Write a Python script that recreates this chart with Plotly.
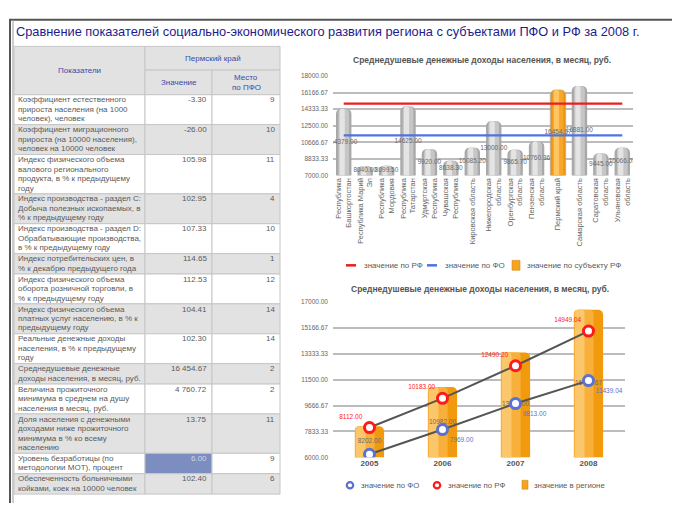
import plotly.graph_objects as go

W, H = 675, 506


def px(x):
    return x / W


def py(y):
    return 1 - y / H


# ---------------- data ----------------
page_title = "Сравнение показателей социально-экономического развития региона с субъектами ПФО и РФ за 2008 г."
head_indicator = "Показатели"
head_region = "Пермский край"
head_value = "Значение"
head_rank = ["Место", "по ПФО"]

indicators = [
    "Коэффициент естественного\nприроста населения (на 1000\nчеловек), человек",
    "Коэффициент миграционного\nприроста (на 10000 населения),\nчеловек на 10000 человек",
    "Индекс физического объема\nвалового регионального\nпродукта, в % к предыдущему\nгоду",
    "Индекс производства - раздел C:\nДобыча полезных ископаемых, в\n% к предыдущему году",
    "Индекс производства - раздел D:\nОбрабатывающие производства,\nв % к предыдущему году",
    "Индекс потребительских цен, в\n% к декабрю предыдущего года",
    "Индекс физического объема\nоборота розничной торговли, в\n% к предыдущему году",
    "Индекс физического объема\nплатных услуг населению, в % к\nпредыдущему году",
    "Реальные денежные доходы\nнаселения, в % к предыдущему\nгоду",
    "Среднедушевые денежные\nдоходы населения, в месяц, руб.",
    "Величина прожиточного\nминимума в среднем на душу\nнаселения в месяц, руб.",
    "Доля населения с денежными\nдоходами ниже прожиточного\nминимума в % ко всему\nнаселению",
    "Уровень безработицы (по\nметодологии МОТ), процент",
    "Обеспеченность больничными\nкойками, коек на 10000 человек",
]
indicator_values = ["-3.30", "-26.00", "105.98", "102.95", "107.33", "114.65", "112.53",
                    "104.41", "102.30", "16 454.67", "4 760.72", "13.75", "6.00", "102.40"]
indicator_ranks = ["9", "10", "11", "4", "10", "1", "12", "14", "14", "2", "2", "11", "9", "6"]
highlight_row = 12

chart_title = "Среднедушевые денежные доходы населения, в месяц, руб."

regions = [
    "Республика<br>Башкортостан", "Республика Марий<br>Эл", "Республика<br>Мордовия",
    "Республика<br>Татарстан", "Удмуртская<br>Республика", "Чувашская<br>Республика",
    "Кировская область", "Нижегородская<br>область", "Оренбургская<br>область",
    "Пензенская<br>область", "Пермский край", "Самарская область",
    "Саратовская<br>область", "Ульяновская<br>область",
]
region_incomes_2008 = [14379.00, 8040.00, 8099.50, 14625.00, 9920.00, 8638.30, 10085.20,
                       13000.00, 9865.70, 10760.36, 16454.67, 16881.00, 9445.00, 10066.05]
focus_region = "Пермский край"

years = ["2005", "2006", "2007", "2008"]
income_region = [8202.00, 10982.00, 13437.00, 16454.67]
income_fo = [6220.00, 7969.00, 9813.00, 11439.04]
income_rf = [8112.00, 10183.00, 12490.20, 14949.04]

top_ticks = [7000.00, 8833.33, 10666.67, 12500.00, 14333.33, 16166.67, 18000.00]
bottom_ticks = [6000.00, 7833.33, 9666.67, 11500.00, 13333.33, 15166.67, 17000.00]

legend_top = ["значение по РФ", "значение по ФО", "значение по субъекту РФ"]
legend_bottom = ["значение по ФО", "значение по РФ", "значение в регионе"]

# ---------------- styles ----------------
FONT = "Liberation Sans, Arial, sans-serif"
GRID = "#c6c6c6"
ALT = "#e2e2e2"
TXT = "#5a5a5a"
HEAD_TXT = "#3b49a6"
RED = "#ee1c1c"
BLUE = "#4f73e0"
MRED = "#ff1a1a"
MBLUE = "#5a72d0"
ORANGE = "#f5a323"
AXTXT = "#666666"

shapes = []
annotations = []


def rect(x0, y0, x1, y1, fill, line=GRID, w=1):
    shapes.append(dict(type="rect", xref="paper", yref="paper",
                       x0=px(x0), x1=px(x1), y0=py(y1), y1=py(y0),
                       fillcolor=fill, line=dict(color=line, width=w), layer="above"))


def hline(x0, x1, y, color, w):
    shapes.append(dict(type="line", xref="paper", yref="paper", x0=px(x0), x1=px(x1),
                       y0=py(y), y1=py(y), line=dict(color=color, width=w), layer="above"))


def vline(x, y0, y1, color, w):
    shapes.append(dict(type="line", xref="paper", yref="paper", x0=px(x), x1=px(x),
                       y0=py(y0), y1=py(y1), line=dict(color=color, width=w), layer="above"))


def ring(cx, cy, r, color, w):
    shapes.append(dict(type="circle", xref="paper", yref="paper", x0=px(cx - r), x1=px(cx + r),
                       y0=py(cy + r), y1=py(cy - r), fillcolor="white",
                       line=dict(color=color, width=w), layer="above"))


def text(x, y, s, anchor="left", size=8, color=TXT, bold=False):
    annotations.append(dict(xref="paper", yref="paper", x=px(x), y=py(y), text=s,
                            showarrow=False, xanchor=anchor, yanchor="middle",
                            font=dict(family=FONT, size=size, color=color,
                                      weight="bold" if bold else "normal")))


# frame
hline(9, 672, 16, "#555555", 2)
vline(10, 16, 506, "#555555", 2)
vline(13, 16, 506, "#9a9a9a", 1)

text(14, 28, page_title, size=12.8, color="#1c1c8e")

# ---------------- table ----------------
CX = [14, 145, 212, 280]
HT, HM, HB = 43, 67, 92
LH, PAD = 9.6, 1.5

rect(CX[0], HT, CX[1], HB, ALT)
rect(CX[1], HT, CX[3], HM, ALT)
rect(CX[1], HM, CX[2], HB, ALT)
rect(CX[2], HM, CX[3], HB, ALT)
text((CX[0] + CX[1]) / 2, (HT + HB) / 2, head_indicator, anchor="center", color=HEAD_TXT)
text((CX[1] + CX[3]) / 2, (HT + HM) / 2, head_region, anchor="center", color=HEAD_TXT)
text((CX[1] + CX[2]) / 2, (HM + HB) / 2, head_value, anchor="center", color=HEAD_TXT)
text((CX[2] + CX[3]) / 2, (HM + HB) / 2 - LH / 2, head_rank[0], anchor="center", color=HEAD_TXT)
text((CX[2] + CX[3]) / 2, (HM + HB) / 2 + LH / 2, head_rank[1], anchor="center", color=HEAD_TXT)

top = HB
for i, label in enumerate(indicators):
    lines = label.split("\n")
    h = len(lines) * LH + PAD
    fill = "#ffffff" if i % 2 == 0 else ALT
    hl = i == highlight_row
    rect(CX[0], top, CX[1], top + h, fill)
    rect(CX[1], top, CX[2], top + h, "#7c8dbf" if hl else fill)
    rect(CX[2], top, CX[3], top + h, fill)
    for j, ln in enumerate(lines):
        text(CX[0] + 2, top + 5.2 + j * LH, ln)
    text(CX[2] - 3, top + 5.2, indicator_values[i], anchor="right",
         color="#d4d8e6" if hl else TXT)
    text(CX[3] - 3, top + 5.2, indicator_ranks[i], anchor="right")
    top += h

# ---------------- top chart ----------------
fig = go.Figure()

Y0_TOP = top_ticks[0]
others = [r for r in regions if r != focus_region]
others_v = [v for r, v in zip(regions, region_incomes_2008) if r != focus_region]
focus_v = [v for r, v in zip(regions, region_incomes_2008) if r == focus_region]

bar_layers = [
    (0.72, None, "#a9a9a9", "#ec9410", 5),
    (0.50, None, "#c6c6c6", "#f7a82c", 4),
    (0.24, -0.19, "#e4e4e4", "#ffc563", 3),
]
for k, (wd, off, gcol, ocol, cr) in enumerate(bar_layers):
    fig.add_trace(go.Bar(x=others, y=others_v, width=wd, offset=off,
                         marker=dict(color=gcol, line=dict(width=0), cornerradius=cr),
                         xaxis="x", yaxis="y", showlegend=False, hoverinfo="skip"))
    fig.add_trace(go.Bar(x=[focus_region], y=focus_v, width=wd, offset=off,
                         marker=dict(color=ocol, line=dict(width=0.8 if k == 0 else 0, color="#b0b0b0"),
                                     cornerradius=cr),
                         xaxis="x", yaxis="y", showlegend=False, hoverinfo="skip"))

fig.add_trace(go.Scatter(x=regions, y=[(Y0_TOP + v) / 2 for v in region_incomes_2008],
                         text=[f"{v:.2f}" for v in region_incomes_2008], mode="text",
                         textfont=dict(family=FONT, size=6.5, color="#6a6a6a"),
                         xaxis="x", yaxis="y", showlegend=False, hoverinfo="skip"))

fig.add_trace(go.Scatter(x=regions, y=[income_rf[-1]] * len(regions), mode="lines",
                         line=dict(color=RED, width=2.2), name=legend_top[0],
                         xaxis="x", yaxis="y", showlegend=False))
fig.add_trace(go.Scatter(x=regions, y=[income_fo[-1]] * len(regions), mode="lines",
                         line=dict(color=BLUE, width=2.2), name=legend_top[1],
                         xaxis="x", yaxis="y", showlegend=False))

# top legend (drawn by hand for compact spacing)
LY1 = 265
hline(346, 356, LY1, RED, 2.5)
text(362, LY1, legend_top[0], color="#5a5a5a")
hline(427, 437, LY1, BLUE, 2.5)
text(443, LY1, legend_top[1], color="#5a5a5a")
rect(512, LY1 - 5, 520, LY1 + 5, ORANGE, line="#d88a10", w=0.6)
text(525, LY1, legend_top[2], color="#5a5a5a")

# ---------------- bottom chart ----------------
Y0_BOT = bottom_ticks[0]
bot_layers = [
    (0.40, None, "#f29a0e", 5),
    (0.27, -0.2, "#f8b03a", 4),
    (0.13, -0.185, "#fcc66a", 3),
]
for k, (wd, off, col, cr) in enumerate(bot_layers):
    fig.add_trace(go.Bar(x=years, y=income_region, width=wd, offset=off,
                         marker=dict(color=col, line=dict(width=0), cornerradius=cr),
                         xaxis="x2", yaxis="y3", name=legend_bottom[2], showlegend=False,
                         hoverinfo="skip"))

fig.add_trace(go.Scatter(x=years, y=[(Y0_BOT + v) / 2 for v in income_region],
                         text=[f"{v:.2f}" for v in income_region], mode="text",
                         textfont=dict(family=FONT, size=6.5, color="#6a6a6a"),
                         xaxis="x2", yaxis="y3", showlegend=False, hoverinfo="skip"))

for series, col, pos, name in [(income_fo, MBLUE, "bottom right", legend_bottom[0]),
                               (income_rf, MRED, "top left", legend_bottom[1])]:
    fig.add_trace(go.Scatter(x=years, y=series, mode="lines", line=dict(color="#555555", width=2),
                             xaxis="x2", yaxis="y3", showlegend=False, hoverinfo="skip"))
    fig.add_trace(go.Scatter(x=years, y=series, mode="markers+text",
                             marker=dict(symbol="circle", size=10, color="white", line=dict(color=col, width=3)),
                             text=[f"{v:.2f}" for v in series], textposition=pos,
                             textfont=dict(family=FONT, size=6.5, color=col),
                             xaxis="x2", yaxis="y3", name=name, showlegend=False))

# bottom legend (drawn by hand)
LY2 = 488
ring(350, LY2, 3.2, MBLUE, 2.2)
text(359, LY2, legend_bottom[0], size=7.8, color="#5a5a5a")
ring(437, LY2, 3.2, MRED, 2.2)
text(446, LY2, legend_bottom[1], size=7.8, color="#5a5a5a")
rect(522, LY2 - 5, 528, LY2 + 4, ORANGE, line="#d88a10", w=0.6)
text(532, LY2, legend_bottom[2], size=7.8, color="#5a5a5a")

# ---------------- layout ----------------
ytick_txt_top = [f"{t:.2f}" for t in top_ticks]
ytick_txt_bot = [f"{t:.2f}" for t in bottom_ticks]

yax_common = dict(tickfont=dict(family=FONT, size=6.5, color=AXTXT), zeroline=False, ticks="",
                  ticklabelstandoff=4, showline=False)

text(482, 57, chart_title, anchor="center", size=8.5, color="#555555", bold=True)
text(480, 289, chart_title, anchor="center", size=8.5, color="#555555", bold=True)

fig.update_layout(
    width=W, height=H, margin=dict(l=0, r=0, t=0, b=0),
    paper_bgcolor="white", plot_bgcolor="white",
    barmode="overlay", font=dict(family=FONT, color=TXT), showlegend=False,
    shapes=shapes, annotations=annotations,
    xaxis=dict(domain=[px(333), px(633)], anchor="y", type="category",
               categoryorder="array", categoryarray=regions, range=[-0.5, len(regions) - 0.5],
               tickangle=-90, tickfont=dict(family=FONT, size=7.5, color=AXTXT),
               showgrid=False, ticks="", showline=False),
    yaxis=dict(domain=[py(174), py(73)], anchor="x", range=[top_ticks[0], top_ticks[-1]],
               tickvals=top_ticks, ticktext=ytick_txt_top, gridcolor="#bcbcbc", gridwidth=2,
               **yax_common),
    yaxis2=dict(overlaying="y", side="right", anchor="x", range=[top_ticks[0], top_ticks[-1]],
                tickvals=top_ticks, ticktext=ytick_txt_top, showgrid=False, **yax_common),
    xaxis2=dict(domain=[px(333), px(625)], anchor="y3", type="category", range=[-0.5, len(years) - 0.5],
                tickfont=dict(family=FONT, size=8, color="#555555", weight="bold"),
                showgrid=False, ticks="", showline=False),
    yaxis3=dict(domain=[py(459.7), py(302.3)], anchor="x2", range=[bottom_ticks[0], bottom_ticks[-1]],
                tickvals=bottom_ticks, ticktext=ytick_txt_bot, gridcolor="#bcbcbc", gridwidth=2,
                **yax_common),
    yaxis4=dict(overlaying="y3", side="right", anchor="x2", range=[bottom_ticks[0], bottom_ticks[-1]],
                tickvals=bottom_ticks, ticktext=ytick_txt_bot, showgrid=False, **yax_common),
)

fig.write_html("out.html", config={"displayModeBar": False},
               post_script="document.body.style.margin='0';document.body.style.overflow='hidden';")
